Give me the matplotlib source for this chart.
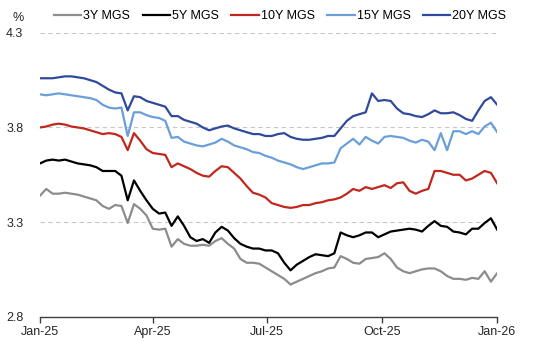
import matplotlib
matplotlib.use("Agg")
import matplotlib.pyplot as plt
import matplotlib.dates as mdates
import pandas as pd

plt.rcParams['font.family'] = ['Liberation Sans', 'DejaVu Sans']

dates = pd.date_range(start='2025-01-01', periods=74, freq='5D')

mgs_3y = [3.44, 3.475, 3.45, 3.45, 3.455, 3.45, 3.445, 3.435, 3.425, 3.415,
          3.385, 3.37, 3.39, 3.385, 3.295, 3.395, 3.37, 3.335, 3.265, 3.26,
          3.265, 3.17, 3.21, 3.185, 3.175, 3.175, 3.18, 3.175, 3.20, 3.215,
          3.185, 3.16, 3.105, 3.085, 3.085, 3.08, 3.06, 3.04, 3.02, 3.00,
          2.97, 2.985, 3.00, 3.015, 3.03, 3.04, 3.055, 3.06, 3.12, 3.105,
          3.085, 3.08, 3.105, 3.11, 3.115, 3.135, 3.105, 3.06, 3.04, 3.03,
          3.04, 3.05, 3.055, 3.055, 3.04, 3.015, 3.00, 3.00, 2.995, 3.005,
          3.00, 3.04, 2.985, 3.03]

mgs_5y = [3.61, 3.625, 3.63, 3.625, 3.63, 3.62, 3.61, 3.605, 3.60, 3.59,
          3.57, 3.57, 3.57, 3.545, 3.415, 3.52, 3.465, 3.415, 3.37, 3.345,
          3.35, 3.28, 3.33, 3.28, 3.22, 3.20, 3.21, 3.19, 3.245, 3.275,
          3.255, 3.215, 3.185, 3.17, 3.16, 3.16, 3.15, 3.15, 3.135, 3.085,
          3.045, 3.075, 3.095, 3.115, 3.13, 3.125, 3.12, 3.135, 3.245, 3.23,
          3.22, 3.23, 3.245, 3.245, 3.22, 3.235, 3.25, 3.255, 3.26, 3.265,
          3.26, 3.25, 3.28, 3.305, 3.28, 3.275, 3.25, 3.245, 3.235, 3.265,
          3.265, 3.295, 3.32, 3.26]

mgs_10y = [3.80, 3.805, 3.815, 3.82, 3.815, 3.805, 3.80, 3.795, 3.785, 3.775,
           3.765, 3.77, 3.765, 3.75, 3.68, 3.77, 3.73, 3.685, 3.665, 3.66,
           3.655, 3.59, 3.61, 3.595, 3.58, 3.56, 3.545, 3.54, 3.57, 3.595,
           3.59, 3.56, 3.53, 3.49, 3.455, 3.445, 3.43, 3.40, 3.39, 3.38,
           3.375, 3.38, 3.39, 3.39, 3.40, 3.405, 3.415, 3.42, 3.43, 3.45,
           3.475, 3.465, 3.485, 3.475, 3.485, 3.495, 3.48, 3.505, 3.51, 3.465,
           3.45, 3.465, 3.475, 3.57, 3.57, 3.56, 3.55, 3.55, 3.52, 3.53,
           3.55, 3.57, 3.56, 3.505]

mgs_15y = [3.975, 3.97, 3.975, 3.98, 3.975, 3.97, 3.965, 3.96, 3.955, 3.945,
           3.92, 3.905, 3.90, 3.905, 3.755, 3.88, 3.88, 3.865, 3.855, 3.85,
           3.835, 3.745, 3.75, 3.725, 3.715, 3.705, 3.70, 3.71, 3.72, 3.74,
           3.725, 3.705, 3.695, 3.685, 3.67, 3.665, 3.65, 3.64, 3.625, 3.615,
           3.605, 3.59, 3.58, 3.59, 3.60, 3.61, 3.61, 3.615, 3.69, 3.715,
           3.74, 3.71, 3.75, 3.73, 3.715, 3.75, 3.755, 3.75, 3.745, 3.73,
           3.72, 3.735, 3.725, 3.68, 3.77, 3.68, 3.78, 3.78, 3.765, 3.78,
           3.765, 3.805, 3.825, 3.775]

mgs_20y = [4.06, 4.06, 4.06, 4.065, 4.07, 4.07, 4.065, 4.06, 4.05, 4.04,
           4.02, 4.00, 3.985, 3.98, 3.89, 3.965, 3.96, 3.94, 3.93, 3.92,
           3.91, 3.86, 3.86, 3.84, 3.83, 3.82, 3.80, 3.785, 3.795, 3.805,
           3.81, 3.795, 3.785, 3.775, 3.765, 3.765, 3.755, 3.755, 3.765, 3.77,
           3.75, 3.74, 3.735, 3.735, 3.74, 3.745, 3.755, 3.755, 3.795, 3.835,
           3.86, 3.87, 3.88, 3.98, 3.94, 3.945, 3.94, 3.90, 3.875, 3.87,
           3.86, 3.855, 3.87, 3.89, 3.875, 3.875, 3.88, 3.865, 3.845, 3.835,
           3.89, 3.94, 3.96, 3.92]

series_labels = ['3Y MGS', '5Y MGS', '10Y MGS', '15Y MGS', '20Y MGS']
series_colors = ['#8C8C8C', '#000000', '#C0281E', '#6A9FDA', '#2F4A9C']
y_ticks = [2.8, 3.3, 3.8, 4.3]
x_ticks = ['2025-01-01', '2025-04-01', '2025-07-01', '2025-10-01', '2026-01-01']

fig = plt.figure(figsize=(5.41, 3.42), dpi=100)
ax = fig.add_axes([0.074, 0.074, 0.845, 0.830])

for vals, lab, col in zip([mgs_3y, mgs_5y, mgs_10y, mgs_15y, mgs_20y],
                          series_labels, series_colors):
    ax.plot(dates, vals, color=col, lw=1.6, label=lab, solid_joinstyle='round')

ax.set_ylim(2.8, 4.3)
ax.set_xlim(pd.Timestamp('2025-01-01'), pd.Timestamp('2026-01-01'))
ax.set_yticks(y_ticks)
ax.set_yticklabels([f'{t:.1f}' for t in y_ticks])
ax.set_xticks(pd.to_datetime(x_ticks))
ax.xaxis.set_major_formatter(mdates.DateFormatter('%b-%y'))

for t in y_ticks[1:]:
    ax.axhline(t, color='#C8C8C8', lw=0.8, ls=(0, (4, 3)), zorder=0)

for s in ['top', 'right', 'left']:
    ax.spines[s].set_visible(False)
ax.spines['bottom'].set_color('#404040')
ax.spines['bottom'].set_linewidth(1.0)
ax.tick_params(axis='y', length=0, pad=12, labelsize=9, labelcolor='#262626')
ax.tick_params(axis='x', direction='out', length=4, width=1.0, color='#404040',
               pad=3, labelsize=9, labelcolor='#262626')

fig.text(0.033, 0.948, '%', fontsize=9, color='#262626', ha='center', va='center')
ax.legend(loc='center', bbox_to_anchor=(0.525, 1.058), ncol=5, frameon=False,
          fontsize=9, handlelength=2.2, handletextpad=0.15, columnspacing=1.0,
          borderaxespad=0)

fig.savefig('out.png', dpi=100)
